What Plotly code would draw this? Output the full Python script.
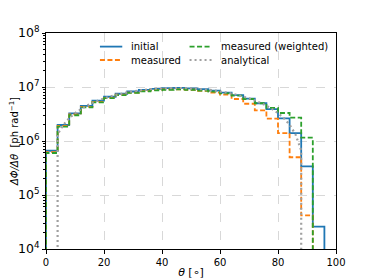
import plotly.graph_objects as go

# bin edges (degrees)
edges_initial = [0, 4, 8, 12, 16, 20, 24, 28, 32, 36, 40, 44, 48, 52, 56, 60, 64, 68, 72, 76, 80, 84, 88, 92, 96]
initial = [6.6e5, 1.98e6, 3.25e6, 4.46e6, 5.58e6, 6.6e6, 7.5e6, 8.25e6, 8.85e6, 9.25e6, 9.5e6, 9.6e6,
           9.45e6, 9.1e6, 8.6e6, 7.9e6, 7.1e6, 6.1e6, 5.0e6, 3.9e6, 2.62e6, 1.4e6, 3.4e5, 2.6e4]

edges_meas = [0, 4, 8, 12, 16, 20, 24, 28, 32, 36, 40, 44, 48, 52, 56, 60, 64, 68, 72, 76, 80, 84, 88, 92]
measured = [6.2e5, 1.9e6, 3.1e6, 4.3e6, 5.3e6, 6.3e6, 7.2e6, 7.9e6, 8.4e6, 8.8e6, 9.0e6, 9.0e6,
            8.9e6, 8.5e6, 7.9e6, 7.2e6, 6.0e6, 4.9e6, 3.7e6, 2.6e6, 1.4e6, 5.0e5, 4.2e4]
weighted = [6.0e5, 1.85e6, 3.0e6, 4.2e6, 5.2e6, 6.2e6, 7.1e6, 7.8e6, 8.3e6, 8.7e6, 8.9e6, 9.0e6,
            8.9e6, 8.6e6, 8.2e6, 7.6e6, 6.9e6, 6.0e6, 5.0e6, 4.1e6, 3.3e6, 2.7e6, 1.15e6]

theta_an = [4, 6, 8, 10, 12, 14, 16, 18, 20, 22, 24, 26, 28, 30, 32, 34, 36, 38, 40, 42, 44, 46,
            48, 50, 52, 54, 56, 58, 60, 62, 64, 66, 68, 70, 72, 74, 76, 78, 80, 82, 84, 86, 88]
analytical = [1.34e6, 2.0e6, 2.65e6, 3.28e6, 3.9e6, 4.51e6, 5.09e6, 5.64e6, 6.17e6, 6.67e6, 7.13e6,
              7.56e6, 7.96e6, 8.31e6, 8.63e6, 8.9e6, 9.13e6, 9.31e6, 9.45e6, 9.55e6, 9.59e6, 9.59e6,
              9.55e6, 9.45e6, 9.31e6, 9.13e6, 8.9e6, 8.63e6, 8.31e6, 7.96e6, 7.56e6, 7.13e6, 6.67e6,
              6.17e6, 5.64e6, 5.09e6, 4.51e6, 3.9e6, 3.28e6, 2.65e6, 2.0e6, 1.34e6, 6.7e5]

x_ticks = [0, 20, 40, 60, 80, 100]

BASE = 1e-3  # zero level (below the log axis)


def stairs(edges, vals):
    x = [edges[0]] + list(edges[:-1]) + [edges[-1], edges[-1]]
    y = [BASE] + list(vals) + [vals[-1], BASE]
    return x, y


FONT = "DejaVu Sans"
fig = go.Figure()

styles = {
    "initial": dict(color="#1f77b4", width=1.8, dash="solid"),
    "measured": dict(color="#ff7f0e", width=1.8, dash="5px,2.5px"),
    "measured (weighted)": dict(color="#2ca02c", width=1.8, dash="5px,2.5px"),
    "analytical": dict(color="#a0a0a0", width=2.2, dash="2px,3px"),
}

for name, edges, vals in [
    ("initial", edges_initial, initial),
    ("measured", edges_meas, measured),
    ("measured (weighted)", edges_meas, weighted),
]:
    x, y = stairs(edges, vals)
    fig.add_trace(go.Scatter(x=x, y=y, mode="lines", name=name, line_shape="hv",
                             line=styles[name], showlegend=False))

xa = [theta_an[0]] + theta_an + [theta_an[-1]]
ya = [BASE] + analytical + [BASE]
fig.add_trace(go.Scatter(x=xa, y=ya, mode="lines", name="analytical",
                         line=styles["analytical"], showlegend=False))

# legend drawn as handles + text (two columns, matplotlib style)
legend_layout = [
    ("initial", 0.186, 0.937),
    ("measured", 0.186, 0.875),
    ("measured (weighted)", 0.495, 0.937),
    ("analytical", 0.495, 0.875),
]
for name, lx, ly in legend_layout:
    st = styles[name]
    fig.add_shape(type="line", xref="paper", yref="paper", x0=lx, x1=lx + 0.077, y0=ly, y1=ly,
                  line=dict(color=st["color"], width=st["width"], dash=st["dash"]))
    fig.add_annotation(xref="paper", yref="paper", x=lx + 0.1, y=ly, text=name, showarrow=False,
                       xanchor="left", yanchor="middle",
                       font=dict(family=FONT, size=10, color="black"))

axis_common = dict(showline=True, linecolor="black", linewidth=1, mirror=True,
                   ticks="outside", ticklen=3.5, tickcolor="black", tickwidth=1,
                   showgrid=True, gridcolor="#d8d8d8", griddash="dash", gridwidth=0.8,
                   zeroline=False, automargin=False,
                   tickfont=dict(family=FONT, size=10, color="black"))

fig.update_xaxes(range=[0, 100], tickvals=x_ticks,
                 title=dict(text="<i>θ</i> [∘]", font=dict(family=FONT, size=11, color="black"), standoff=1),
                 **axis_common)
fig.update_yaxes(type="log", range=[4, 8], dtick=1, exponentformat="power",
                 minor=dict(ticks="outside", ticklen=2, tickcolor="black", dtick="D1", showgrid=False),
                 title=dict(text="<i>ΔΦ/Δθ</i>  [ph rad<sup>−1</sup>]", font=dict(family=FONT, size=10, color="black"), standoff=6),
                 **axis_common)

fig.update_layout(
    width=374, height=280,
    margin=dict(l=38, r=45.5, t=25, b=39, autoexpand=False),
    plot_bgcolor="white", paper_bgcolor="white",
    showlegend=False,
)

fig.write_html("out.html")
